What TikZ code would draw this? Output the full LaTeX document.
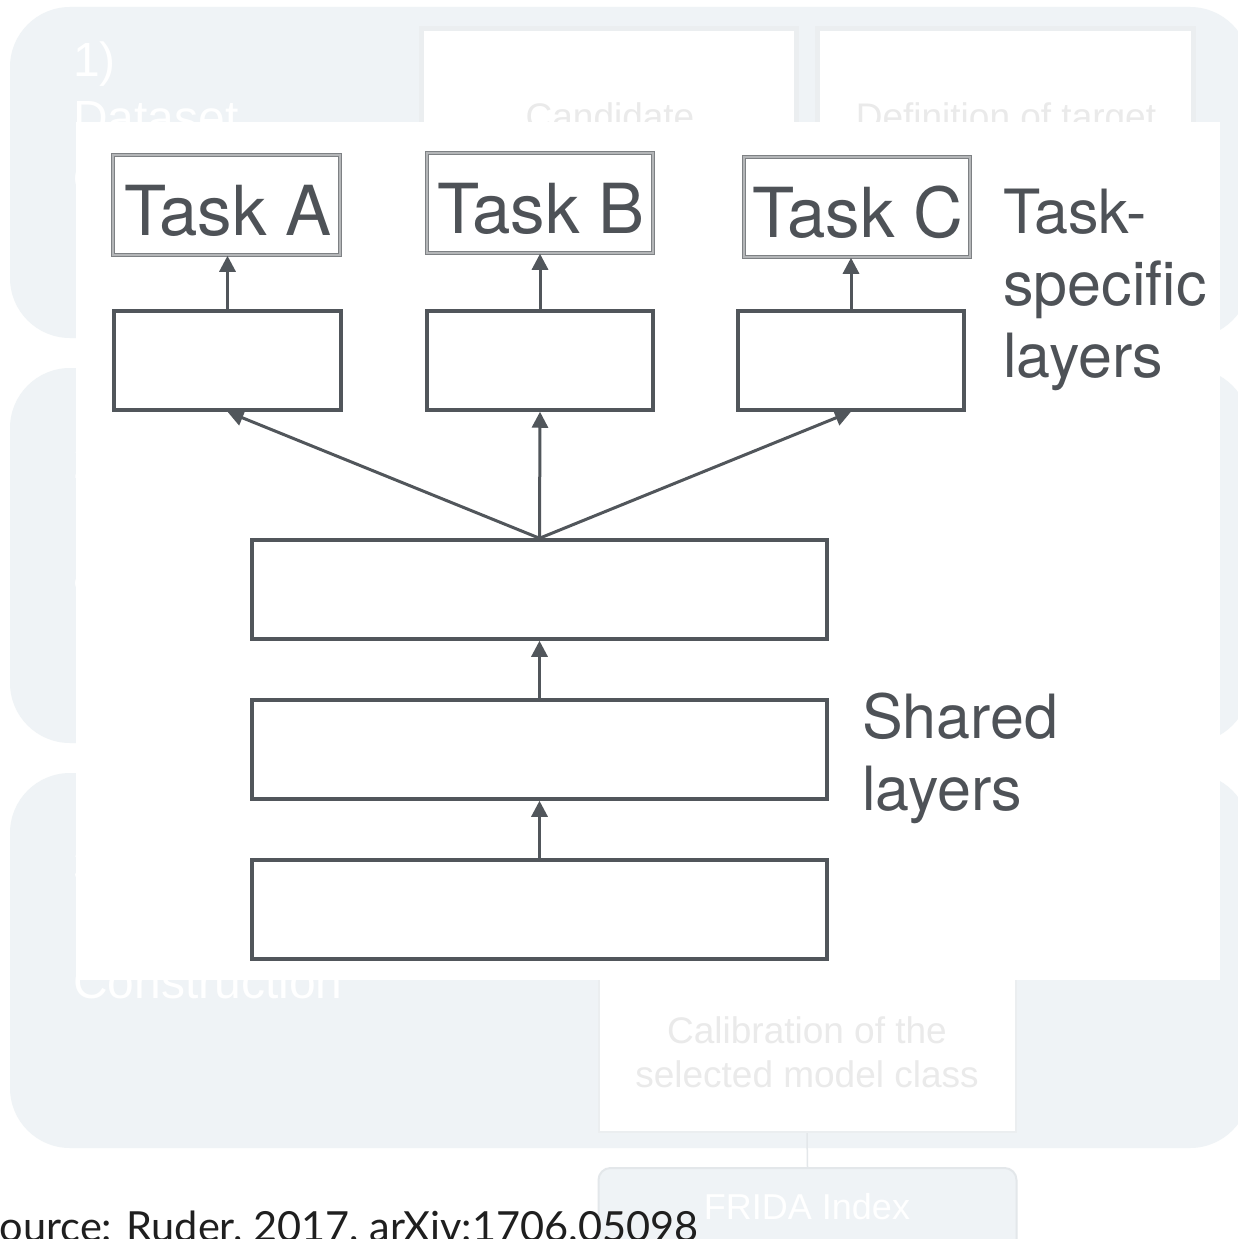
\documentclass[tikz,border=0pt]{standalone}
\usepackage{fontspec}
\usetikzlibrary{arrows.meta}
\newfontfamily\helv{TeX Gyre Heros}
\newfontfamily\slide{Liberation Sans}
\newfontfamily\credit{Lato}
\definecolor{panel}{HTML}{EFF3F6}
\definecolor{boxedge}{HTML}{EBEEF0}
\definecolor{fridaedge}{HTML}{E3E7EA}
\definecolor{fadetext}{HTML}{EAEAEA}
\definecolor{ink}{HTML}{51565B}
\definecolor{inktext}{HTML}{4E5257}
\definecolor{taskedge}{HTML}{7E8184}
\definecolor{taskinner}{HTML}{B4B6B8}
\tikzset{
  panelbox/.style={fill=panel, rounded corners=60pt, inner sep=0pt},
  slidebox/.style={fill=white, draw=boxedge, line width=5pt, inner sep=0pt},
  steplabel/.style={anchor=base west, inner sep=0pt, text=white, font=\slide\fontsize{48}{57}\selectfont},
  fadelabel/.style={anchor=base, inner sep=0pt, text=fadetext, font=\slide\fontsize{37}{44}\selectfont},
  layerbox/.style={draw=ink, line width=3.5pt, fill=white, inner sep=0pt},
  taskbox/.style={draw=taskedge, double=taskinner, line width=1.5pt, double distance=1.2pt,
    fill=white, inner sep=0pt},
  tasklabel/.style={anchor=base, inner sep=0pt, text=inktext, font=\helv\fontsize{69}{80}\selectfont},
  sidelabel/.style={anchor=base west, inner sep=0pt, text=inktext, font=\helv\fontsize{61}{72}\selectfont},
  arr/.style={draw=ink, line width=3pt, -{Triangle[width=16pt,length=16pt]}},
}
\begin{document}
\begin{tikzpicture}[x=1pt,y=-1pt]
\useasboundingbox (0,0) rectangle (1237,1239);
\fill[white] (0,0) rectangle (1237,1239);

% three grey stage panels of the slide
\node[panelbox, minimum width=1240pt, minimum height=331pt] (p1) at (630,172.5) {};
\node[panelbox, minimum width=1240pt, minimum height=375pt] (p2) at (630,555.5) {};
\node[panelbox, minimum width=1240pt, minimum height=375pt] (p3) at (630,960.5) {};

% stage titles (mostly covered by the white sheet)
\node[steplabel] (p1a) at (73,77) {1)};
\node[steplabel] (p1b) at (73,134) {Dataset};
\node[steplabel] (p1c) at (73,191) {c};
\node[steplabel] (p2a) at (73,478) {2)};
\node[steplabel] (p2b) at (73,535) {Model};
\node[steplabel] (p2c) at (73,590) {analysis};
\node[steplabel] (p3a) at (73,882) {3)};
\node[steplabel] (p3b) at (73,940) {Index};
\node[steplabel] (p3c) at (73,998) {Construction};

% boxes inside the first panel
\node[slidebox, minimum width=375pt, minimum height=180pt] (cand) at (609,118.5) {};
\node[slidebox, minimum width=376pt, minimum height=180pt] (defn) at (1005.5,118.5) {};
\node[fadelabel] (candt) at (610,129) {Candidate};
\node[fadelabel] (defnt) at (1006,129) {Definition of target};

% calibration box and index box of the third panel
\node[fill=white, draw=boxedge, line width=2pt, minimum width=417pt, minimum height=180pt, inner sep=0pt] (calib) at (807,1042) {};
\node[fadelabel] (calib1) at (807,1043) {Calibration of the};
\node[fadelabel] (calib2) at (807,1087) {selected model class};
\node[fill=panel, draw=fridaedge, line width=2pt, rounded corners=12pt,
      minimum width=418pt, minimum height=100pt, inner sep=0pt] (frida) at (807.5,1218) {};
\node[anchor=base, inner sep=0pt, text=white, font=\slide\fontsize{36}{42}\selectfont] (fridat) at (807,1219) {FRIDA Index};
\draw[fridaedge, line width=1.5pt] (calib.south) -- (frida.north);

% reference line
\node[anchor=base west, inner sep=0pt, text=black!88, font=\credit\fontsize{41.5}{48}\selectfont] (src) at (-23,1241)
  {Source: Ruder, 2017, arXiv:1706.05098};

% white sheet holding the network sketch
\node[fill=white, minimum width=1144pt, minimum height=858pt, inner sep=0pt] (sheet) at (648,551) {};

% task outputs
\node[taskbox, minimum width=227pt, minimum height=100pt] (ta) at (226.5,205) {};
\node[taskbox, minimum width=226pt, minimum height=100pt] (tb) at (540,203) {};
\node[taskbox, minimum width=226pt, minimum height=100pt] (tc) at (857,207) {};
\node[tasklabel] (tat) at (228,235) {Task A};
\node[tasklabel] (tbt) at (541,233) {Task B};
\node[tasklabel] (tct) at (858,237) {Task C};

% task-specific layers
\node[layerbox, minimum width=227pt, minimum height=99pt] (la) at (227.5,360.5) {};
\node[layerbox, minimum width=226pt, minimum height=99pt] (lb) at (540,360.5) {};
\node[layerbox, minimum width=226pt, minimum height=99pt] (lc) at (851,360.5) {};

% shared layers
\node[layerbox, minimum width=575pt, minimum height=99pt] (s1) at (539.5,589.5) {};
\node[layerbox, minimum width=575pt, minimum height=99pt] (s2) at (539.5,749.5) {};
\node[layerbox, minimum width=575pt, minimum height=99pt] (s3) at (539.5,909.5) {};

% connections
\draw[arr] (la.north) -- (la.north |- ta.south);
\draw[arr] (lb.north) -- (lb.north |- tb.south);
\draw[arr] (lc.north) -- (lc.north |- tc.south);
\draw[arr] (s1.north) -- (la.south);
\draw[arr] (s1.north) -- (lb.south);
\draw[arr] (s1.north) -- (lc.south);
\draw[arr] (s2.north) -- (s1.south);
\draw[arr] (s3.north) -- (s2.south);

% side labels
\node[sidelabel] (ts1) at (1003,233) {Task-};
\node[sidelabel] (ts2) at (1003,305) {specific};
\node[sidelabel] (ts3) at (1003,377) {layers};
\node[sidelabel] (sh1) at (862,738) {Shared};
\node[sidelabel] (sh2) at (862,810) {layers};
\end{tikzpicture}
\end{document}
